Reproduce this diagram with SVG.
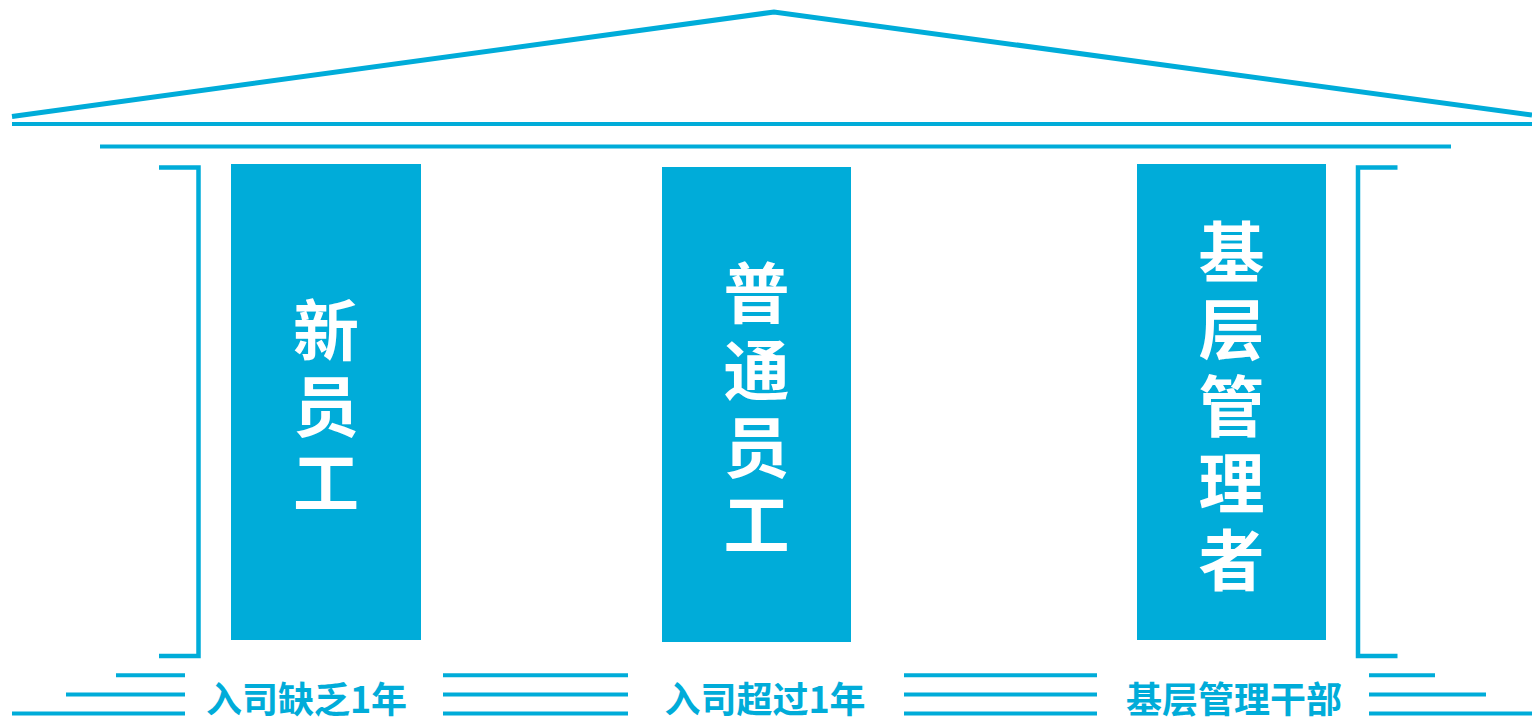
<svg xmlns="http://www.w3.org/2000/svg" width="1532" height="719" viewBox="0 0 1532 719">
<style>
.ln{stroke:#00ACD9;stroke-width:4;fill:none}
.roof{stroke:#00ACD9;stroke-width:5;fill:none;stroke-linejoin:miter}
.br{stroke:#00ACD9;stroke-width:4.5;fill:none;stroke-linejoin:miter}
.col{fill:#00ACD9}
.vt{fill:#FFFFFF;font-family:"Noto Sans CJK SC","Noto Sans",sans-serif;font-weight:bold;font-size:66px;text-anchor:middle}
.bt{fill:#00ACD9;font-family:"Noto Sans CJK SC","Noto Sans",sans-serif;font-weight:bold;font-size:36px;text-anchor:middle}
</style>
<rect width="1532" height="719" fill="#FFFFFF"/>
<g id="roof">
<polyline class="roof" points="12,116.5 774,12 1532,115"/>
<line class="ln" x1="12" y1="124" x2="1532" y2="124"/>
<line class="ln" x1="100" y1="146.5" x2="1451" y2="146.5"/>
</g>
<g id="brackets">
<polyline class="br" points="159,167.5 198.5,167.5 198.5,656 159,656"/>
<polyline class="br" points="1397.5,167.5 1358,167.5 1358,656 1397.5,656"/>
</g>
<g id="col1">
<rect class="col" x="231" y="164" width="190" height="476"/>
<text class="vt" x="326" y="355">新</text>
<text class="vt" x="326" y="431">员</text>
<text class="vt" x="326" y="507">工</text>
</g>
<g id="col2">
<rect class="col" x="662" y="167" width="189" height="475"/>
<text class="vt" x="756.5" y="318">普</text>
<text class="vt" x="756.5" y="395">通</text>
<text class="vt" x="756.5" y="472">员</text>
<text class="vt" x="756.5" y="549">工</text>
</g>
<g id="col3">
<rect class="col" x="1137" y="164" width="189" height="476"/>
<text class="vt" x="1231.5" y="277">基</text>
<text class="vt" x="1231.5" y="354">层</text>
<text class="vt" x="1231.5" y="431">管</text>
<text class="vt" x="1231.5" y="508">理</text>
<text class="vt" x="1231.5" y="585">者</text>
</g>
<g id="steps">
<line class="ln" x1="116" y1="675.3" x2="185" y2="675.3"/>
<line class="ln" x1="66" y1="694.5" x2="185" y2="694.5"/>
<line class="ln" x1="12" y1="713.5" x2="185" y2="713.5"/>
<line class="ln" x1="443" y1="675.3" x2="628" y2="675.3"/>
<line class="ln" x1="443" y1="694.5" x2="628" y2="694.5"/>
<line class="ln" x1="443" y1="713.5" x2="628" y2="713.5"/>
<line class="ln" x1="904" y1="675.3" x2="1097" y2="675.3"/>
<line class="ln" x1="904" y1="694.5" x2="1097" y2="694.5"/>
<line class="ln" x1="904" y1="713.5" x2="1097" y2="713.5"/>
<line class="ln" x1="1369" y1="675.3" x2="1435" y2="675.3"/>
<line class="ln" x1="1369" y1="694.5" x2="1486" y2="694.5"/>
<line class="ln" x1="1369" y1="713.5" x2="1532" y2="713.5"/>
</g>
<g id="labels">
<text class="bt" x="306.5" y="713">入司缺乏1年</text>
<text class="bt" x="765" y="713">入司超过1年</text>
<text class="bt" x="1234" y="713">基层管理干部</text>
</g>
</svg>
